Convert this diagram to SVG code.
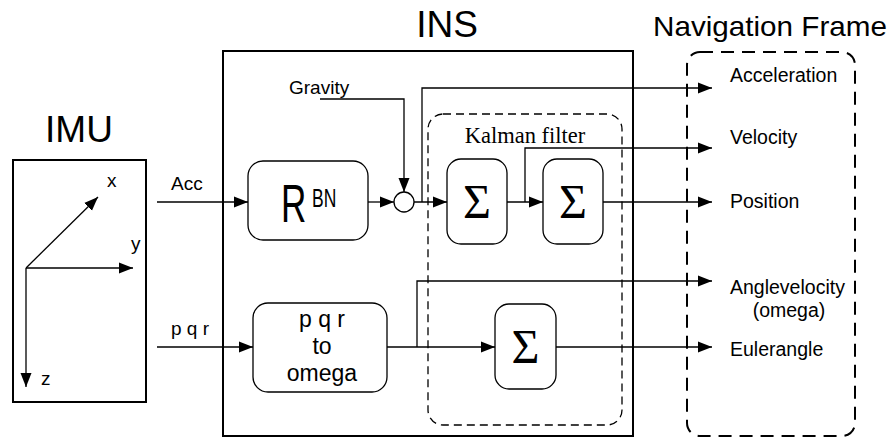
<svg xmlns="http://www.w3.org/2000/svg" width="893" height="438" viewBox="0 0 893 438">
<style>
.s{font-family:"Liberation Sans",Arial,sans-serif;fill:#000}
.sr{font-family:"Liberation Serif","Times New Roman",serif;fill:#000}
.sg{font-family:"Liberation Serif","DejaVu Serif",serif;fill:#000;font-weight:normal}
.ln{fill:none;stroke:#000;stroke-width:1.3}
.box{fill:#fff;stroke:#000;stroke-width:1.3}
.big{fill:none;stroke:#000;stroke-width:2}
</style>
<defs>
<marker id="ar" markerWidth="14" markerHeight="12" refX="14" refY="6" orient="auto" markerUnits="userSpaceOnUse">
<path d="M0,0.5 L14,6 L0,11.5 z" fill="#000"/>
</marker>
</defs>
<rect width="893" height="438" fill="#fff"/>

<g id="imu">
<text class="s" x="79" y="142" font-size="37" text-anchor="middle">IMU</text>
<rect class="big" x="13" y="160" width="133" height="242"/>
<line class="ln" x1="26" y1="268" x2="98" y2="197" marker-end="url(#ar)"/>
<line class="ln" x1="26" y1="268" x2="133" y2="268" marker-end="url(#ar)"/>
<line class="ln" x1="26" y1="268" x2="26" y2="387" marker-end="url(#ar)"/>
<text class="s" x="107" y="187" font-size="19">x</text>
<text class="s" x="131" y="250" font-size="19">y</text>
<text class="s" x="41" y="385" font-size="19">z</text>
</g>

<g id="ins">
<text class="s" x="447" y="37" font-size="37" text-anchor="middle">INS</text>
<rect class="big" x="223" y="51" width="410" height="385"/>
</g>

<g id="kalman">
<rect x="428" y="114" width="194" height="311" rx="15" fill="none" stroke="#000" stroke-width="1.3" stroke-dasharray="8,5"/>
<text class="sr" x="525" y="143" font-size="22.5" text-anchor="middle">Kalman filter</text>
</g>

<g id="navframe">
<text class="s" x="653" y="36" font-size="28" textLength="234" lengthAdjust="spacingAndGlyphs">Navigation Frame</text>
<rect x="687" y="52" width="168" height="384" rx="13" fill="none" stroke="#000" stroke-width="2" stroke-dasharray="13,8"/>
<text class="s" x="730" y="82" font-size="19.5">Acceleration</text>
<text class="s" x="730" y="144" font-size="19.5">Velocity</text>
<text class="s" x="730" y="208" font-size="19.5">Position</text>
<text class="s" x="730" y="294" font-size="19.5">Anglevelocity</text>
<text class="s" x="789" y="317" font-size="19.5" text-anchor="middle">(omega)</text>
<text class="s" x="730" y="356" font-size="19.5">Eulerangle</text>
</g>

<g id="rbn">
<rect class="box" x="248" y="161" width="120" height="79" rx="15"/>
<text class="s" transform="translate(281,222) scale(0.65,1)" font-size="54">R</text>
<text class="s" transform="translate(312,207) scale(0.7,1)" font-size="25">BN</text>
</g>

<g id="sum-node">
<circle cx="404" cy="202" r="10" fill="#fff" stroke="#000" stroke-width="1.3"/>
</g>

<g id="sigma1">
<rect class="box" x="447" y="159" width="60" height="85" rx="14"/>
<text class="sg" x="477" y="218" font-size="48" text-anchor="middle">Σ</text>
</g>

<g id="sigma2">
<rect class="box" x="543" y="159" width="60" height="85" rx="14"/>
<text class="sg" x="573" y="218" font-size="48" text-anchor="middle">Σ</text>
</g>

<g id="pqr2omega">
<rect class="box" x="253" y="303" width="134" height="89" rx="15"/>
<text class="s" x="322" y="327" font-size="23" text-anchor="middle">p q r</text>
<text class="s" x="322" y="354" font-size="23" text-anchor="middle">to</text>
<text class="s" x="322" y="381" font-size="23" text-anchor="middle">omega</text>
</g>

<g id="sigma3">
<rect class="box" x="495" y="304" width="61" height="85" rx="14"/>
<text class="sg" x="525.5" y="363" font-size="48" text-anchor="middle">Σ</text>
</g>

<g id="connectors">
<text class="s" x="171" y="190" font-size="19">Acc</text>
<line class="ln" x1="157" y1="202" x2="248" y2="202" marker-end="url(#ar)"/>
<text class="s" x="171" y="335" font-size="19">p q r</text>
<line class="ln" x1="157" y1="347" x2="253" y2="347" marker-end="url(#ar)"/>
<text class="s" x="289" y="94" font-size="19">Gravity</text>
<polyline class="ln" points="320,99 404,99 404,192" marker-end="url(#ar)"/>
<line class="ln" x1="368" y1="202" x2="394" y2="202" marker-end="url(#ar)"/>
<line class="ln" x1="414" y1="202" x2="447" y2="202" marker-end="url(#ar)"/>
<polyline class="ln" points="422,202 422,88 712,88" marker-end="url(#ar)"/>
<line class="ln" x1="507" y1="202" x2="543" y2="202" marker-end="url(#ar)"/>
<polyline class="ln" points="525,202 525,148 712,148" marker-end="url(#ar)"/>
<line class="ln" x1="603" y1="202" x2="712" y2="202" marker-end="url(#ar)"/>
<line class="ln" x1="387" y1="347" x2="495" y2="347" marker-end="url(#ar)"/>
<polyline class="ln" points="417,347 417,281 712,281" marker-end="url(#ar)"/>
<line class="ln" x1="556" y1="347" x2="712" y2="347" marker-end="url(#ar)"/>
</g>
</svg>
